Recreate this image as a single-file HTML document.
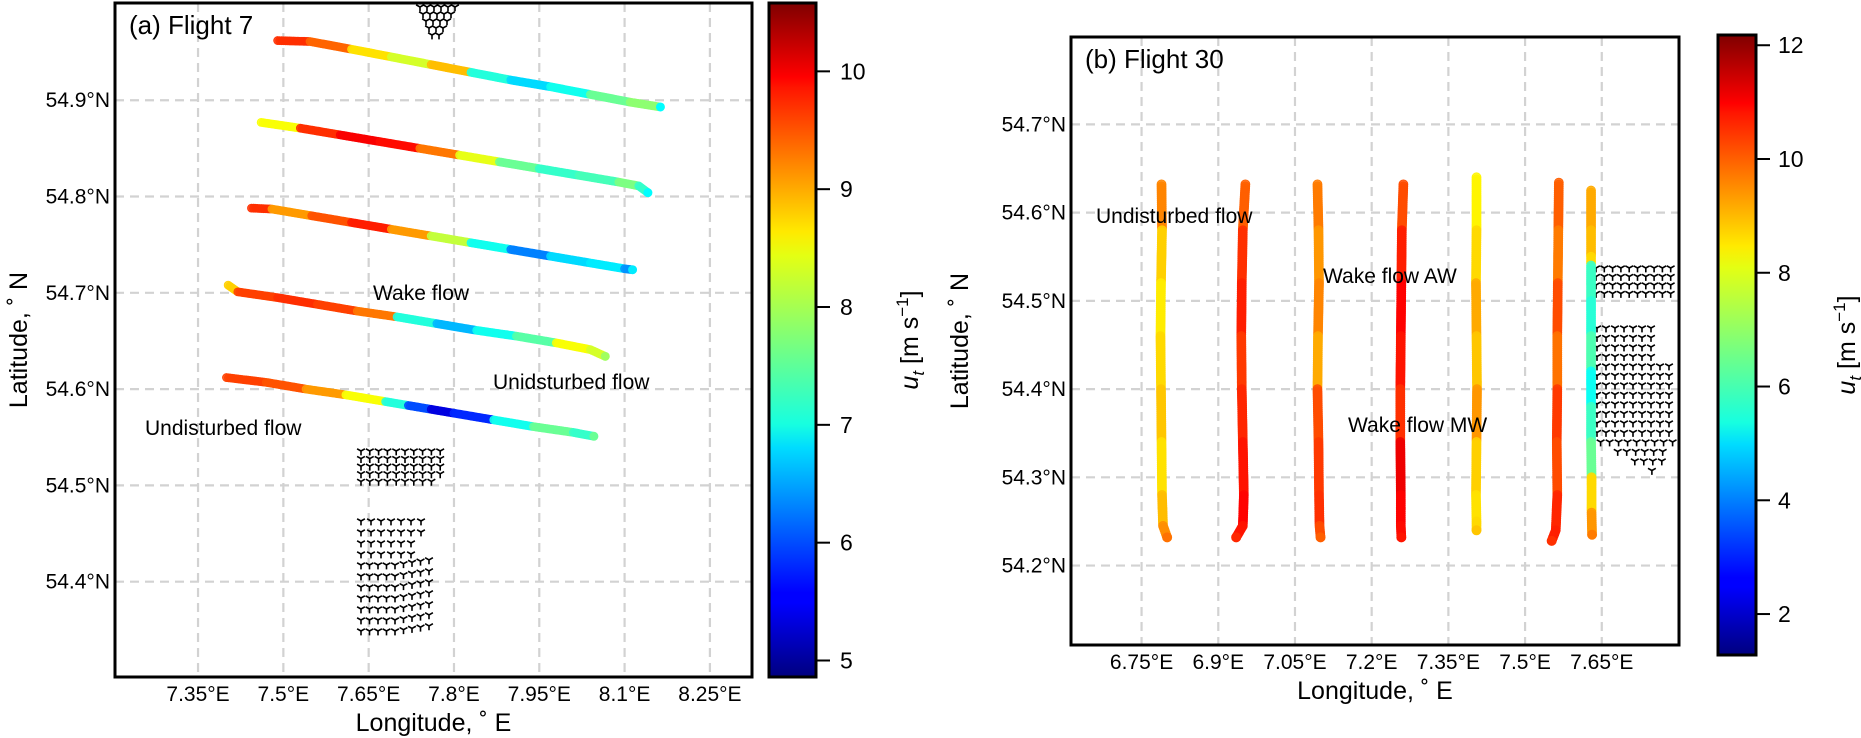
<!DOCTYPE html>
<html><head><meta charset="utf-8">
<style>
html,body{margin:0;padding:0;background:#fff;}
svg{display:block;font-family:"Liberation Sans",Arial,sans-serif;}
</style></head>
<body>
<svg id="fig" width="1861" height="738" viewBox="0 0 1861 738" xmlns="http://www.w3.org/2000/svg">
<defs>
<linearGradient id="jetA" x1="0" y1="1" x2="0" y2="0">
<stop offset="0" stop-color="#00007f"/><stop offset="0.11" stop-color="#0000ff"/><stop offset="0.125" stop-color="#0000ff"/><stop offset="0.34" stop-color="#00dcff"/><stop offset="0.375" stop-color="#17ffe0"/><stop offset="0.5" stop-color="#7dff7a"/><stop offset="0.625" stop-color="#e4ff13"/><stop offset="0.66" stop-color="#ffea00"/><stop offset="0.875" stop-color="#ff1500"/><stop offset="0.89" stop-color="#ff0000"/><stop offset="1" stop-color="#7f0000"/>
</linearGradient>
</defs>
<g id="panelA"></g>
<g id="panelB"></g>
</svg>
<script>
// ---------- Panel A data (Flight 7) ----------
const aXTicks = [7.35, 7.5, 7.65, 7.8, 7.95, 8.1, 8.25];
const aXTickLabels = ["7.35°E","7.5°E","7.65°E","7.8°E","7.95°E","8.1°E","8.25°E"];
const aYTicks = [54.4, 54.5, 54.6, 54.7, 54.8, 54.9];
const aYTickLabels = ["54.4°N","54.5°N","54.6°N","54.7°N","54.8°N","54.9°N"];
const aT1Lon = [7.49,7.547,7.62,7.69,7.76,7.83,7.90,7.97,8.04,8.11,8.163];
const aT1Lat = [54.962,54.961,54.953,54.945,54.937,54.929,54.921,54.914,54.906,54.898,54.893];
const aT1U   = [9.6,9.3,8.6,8.2,8.8,7.2,6.8,7.1,7.6,7.8,7.0];
const aT2Lon = [7.461,7.53,7.60,7.67,7.74,7.81,7.88,7.95,8.02,8.09,8.125,8.141];
const aT2Lat = [54.877,54.871,54.864,54.857,54.850,54.843,54.836,54.829,54.822,54.815,54.811,54.804];
const aT2U   = [8.4,9.6,9.9,9.8,9.2,8.3,7.6,7.3,7.4,7.7,7.3,7.0];
const aT3Lon = [7.444,7.48,7.55,7.62,7.69,7.76,7.83,7.90,7.97,8.04,8.10,8.114];
const aT3Lat = [54.788,54.787,54.780,54.773,54.766,54.759,54.752,54.745,54.738,54.731,54.725,54.724];
const aT3U   = [9.6,9.0,9.4,9.7,9.0,8.1,7.1,6.3,6.8,6.9,6.4,6.9];
const aT4Lon = [7.403,7.42,7.49,7.56,7.63,7.70,7.77,7.84,7.91,7.98,8.04,8.066];
const aT4Lat = [54.708,54.701,54.695,54.688,54.681,54.675,54.668,54.661,54.655,54.648,54.641,54.634];
const aT4U   = [8.7,9.5,9.6,9.5,9.2,7.2,6.6,7.1,7.5,8.4,8.2,7.9];
const aT5Lon = [7.40,7.47,7.54,7.61,7.68,7.72,7.76,7.80,7.87,7.94,8.01,8.046];
const aT5Lat = [54.612,54.607,54.600,54.594,54.587,54.583,54.579,54.575,54.568,54.561,54.555,54.551];
const aT5U   = [9.5,9.4,9.0,8.4,7.2,6.0,5.4,5.8,7.1,7.6,7.3,7.6];
const aCbTicks = [5,6,7,8,9,10];

// ---------- Panel B data (Flight 30) ----------
const bXTicks = [6.75, 6.9, 7.05, 7.2, 7.35, 7.5, 7.65];
const bXTickLabels = ["6.75°E","6.9°E","7.05°E","7.2°E","7.35°E","7.5°E","7.65°E"];
const bYTicks = [54.2, 54.3, 54.4, 54.5, 54.6, 54.7];
const bYTickLabels = ["54.2°N","54.3°N","54.4°N","54.5°N","54.6°N","54.7°N"];
const bLat9 = [54.632,54.58,54.52,54.46,54.40,54.34,54.28,54.245,54.232];
const bR1Lon = [6.789,6.790,6.788,6.787,6.788,6.789,6.790,6.792,6.800];
const bR1U   = [9.4,8.6,8.3,8.5,8.7,8.4,8.8,9.3,9.6];
const bR2Lon = [6.953,6.948,6.946,6.945,6.946,6.948,6.950,6.948,6.935];
const bR2U   = [9.8,10.3,10.5,10.2,10.4,10.6,10.8,10.6,10.4];
const bR3Lon = [7.094,7.096,7.097,7.095,7.094,7.096,7.097,7.098,7.100];
const bR3U   = [9.5,9.2,9.4,9.0,10.0,10.2,10.3,10.0,9.8];
const bR4Lon = [7.262,7.259,7.258,7.257,7.256,7.256,7.257,7.257,7.258];
const bR4U   = [10.0,10.5,10.8,10.6,10.3,11.0,10.8,10.7,10.6];
const bR5Lat = [54.640,54.58,54.52,54.46,54.40,54.34,54.28,54.25,54.240];
const bR5Lon = [7.405,7.405,7.404,7.405,7.406,7.405,7.404,7.405,7.405];
const bR5U   = [8.2,8.5,9.0,8.7,9.2,8.6,8.4,8.5,8.7];
const bR6Lat = [54.634,54.58,54.52,54.46,54.40,54.34,54.28,54.24,54.228];
const bR6Lon = [7.566,7.565,7.564,7.563,7.563,7.562,7.563,7.560,7.552];
const bR6U   = [9.8,9.5,10.0,9.6,10.2,10.0,10.4,10.5,10.3];
const bR7Lat = [54.625,54.58,54.55,54.54,54.50,54.46,54.42,54.38,54.34,54.30,54.26,54.235];
const bR7Lon = [7.629,7.629,7.629,7.629,7.629,7.629,7.629,7.629,7.629,7.630,7.630,7.631];
const bR7U   = [9.0,8.8,8.5,6.0,5.8,6.2,5.5,6.0,6.5,8.5,9.2,9.5];
const bCbTicks = [2,4,6,8,10,12];

const NS = "http://www.w3.org/2000/svg";
function mk(parent, tag, attrs, text){
  const e = document.createElementNS(NS, tag);
  for (const k in attrs) e.setAttribute(k, attrs[k]);
  if (text !== undefined) e.textContent = text;
  parent.appendChild(e);
  return e;
}
function jet(t){
  t = Math.max(0, Math.min(1, t));
  const c = v => Math.round(255*Math.max(0, Math.min(1, v)));
  return `rgb(${c(1.5-Math.abs(4*t-3))},${c(1.5-Math.abs(4*t-2))},${c(1.5-Math.abs(4*t-1))})`;
}

function buildPanel(cfg){
  const g = document.getElementById(cfg.id);
  const sx = lon => cfg.x0 + (lon - cfg.lon0) / (cfg.lon1 - cfg.lon0) * (cfg.x1 - cfg.x0);
  const sy = lat => cfg.y0 + (cfg.lat1 - lat) / (cfg.lat1 - cfg.lat0) * (cfg.y1 - cfg.y0);
  const cy = u => cfg.cbY1 - (u - cfg.vmin) / (cfg.vmax - cfg.vmin) * (cfg.cbY1 - cfg.cbY0);
  const col = u => jet((u - cfg.vmin) / (cfg.vmax - cfg.vmin));

  const grid = mk(g, "g", {});
  
  
  cfg.xTicks.forEach(v => {
    const l = mk(grid, "line", {x1:sx(v), x2:sx(v), y1:cfg.y0, y2:cfg.y1, stroke:"#d2d2d2", "stroke-width":2.2, "stroke-dasharray":"9,6"});
    
    
  });
  cfg.yTicks.forEach(v => {
    const l = mk(grid, "line", {x1:cfg.x0, x2:cfg.x1, y1:sy(v), y2:sy(v), stroke:"#d2d2d2", "stroke-width":2.2, "stroke-dasharray":"9,6"});
    
    
  });

  const tg = mk(g, "g", {stroke:"#000", "stroke-width":1.6, fill:"none"});
  
  
  cfg.turbines.forEach(p => {
    const x = p[0], y = p[1];
    mk(tg, "path", {d:`M${x},${y}L${x},${y+4.4}M${x},${y}L${x+3.9},${y-2.2}M${x},${y}L${x-3.9},${y-2.2}`});
  });

  cfg.tracks.forEach((tr, ti) => {
    const tgp = mk(g, "g", {});
    
    
    for (let i = 0; i < tr.lon.length - 1; i++){
      const xa = sx(tr.lon[i]), ya = sy(tr.lat[i]), xb = sx(tr.lon[i+1]), yb = sy(tr.lat[i+1]);
      const d = Math.hypot(xb-xa, yb-ya), n = Math.max(1, Math.round(d/2));
      const c = col(tr.u[i]);
      for (let k = 0; k < n; k++){
        const f = k/n;
        mk(tgp, "circle", {cx:xa+(xb-xa)*f, cy:ya+(yb-ya)*f, r:cfg.r, fill:c, stroke:c, "stroke-width":0.8, "fill-opacity":0.85});
      }
    }
    const last = tr.lon.length-1;
    const c = col(tr.u[last]);
    mk(tgp, "circle", {cx:sx(tr.lon[last]), cy:sy(tr.lat[last]), r:cfg.r, fill:c, stroke:c});
  });

  const fr = mk(g, "rect", {x:cfg.x0, y:cfg.y0, width:cfg.x1-cfg.x0, height:cfg.y1-cfg.y0, fill:"none", stroke:"#000", "stroke-width":3});
  
  

  cfg.xTicks.forEach((v, i) => {
    const t = mk(g, "text", {x:sx(v), y:cfg.y1+24, "font-size":21, "text-anchor":"middle", fill:"#000"}, cfg.xLabels[i]);
    
    
  });
  cfg.yTicks.forEach((v, i) => {
    const t = mk(g, "text", {x:cfg.x0-5, y:sy(v)+7, "font-size":21, "text-anchor":"end", fill:"#000"}, cfg.yLabels[i]);
    
    
  });
  const xt = mk(g, "text", {x:(cfg.x0+cfg.x1)/2, y:cfg.y1+54, "font-size":25, "text-anchor":"middle"}, "Longitude, ˚ E");
  
  
  const yt = mk(g, "text", {x:0, y:0, "font-size":25, "text-anchor":"middle", transform:`translate(${cfg.ylabX},${(cfg.y0+cfg.y1)/2}) rotate(-90)`}, "Latitude, ˚ N");
  
  
  const pt = mk(g, "text", {x:cfg.x0+14, y:cfg.y0+31, "font-size":26}, cfg.title);
  
  
  cfg.notes.forEach(n => {
    const t = mk(g, "text", {x:n[1], y:n[2], "font-size":21}, n[0]);
    
    
  });

  const cb = mk(g, "g", {});
  
  
  mk(cb, "rect", {x:cfg.cbX, y:cfg.cbY0, width:cfg.cbW, height:cfg.cbY1-cfg.cbY0, fill:"url(#jetA)", stroke:"#000", "stroke-width":3});
  cfg.cbTicks.forEach(v => {
    mk(cb, "line", {x1:cfg.cbX+cfg.cbW, x2:cfg.cbX+cfg.cbW+14, y1:cy(v), y2:cy(v), stroke:"#000", "stroke-width":2});
    const t = mk(cb, "text", {x:cfg.cbX+cfg.cbW+cfg.cbLabOff, y:cy(v)+8, "font-size":23}, String(v));
    
    
  });
  const ct = mk(cb, "text", {x:0, y:0, "font-size":25, "text-anchor":"middle", transform:`translate(${cfg.cbLabX},${(cfg.cbY0+cfg.cbY1)/2}) rotate(-90)`});
  
  
  mk(ct, "tspan", {"font-style":"italic"}, "u");
  mk(ct, "tspan", {"font-style":"italic", "font-size":17, dy:6}, "t");
  mk(ct, "tspan", {dy:-6}, " [m s");
  mk(ct, "tspan", {"font-size":17, dy:-10}, "−1");
  mk(ct, "tspan", {dy:10}, "]");
}

function turbA(){
  const p = [];
  for (let r = 0; r < 5; r++) for (let c = 0; c < (r==4?9:10); c++) p.push([361+c*8.8, 451+r*7.6]);
  for (let r = 0; r < 11; r++){
    const y = 521 + r*11;
    const xmax = r < 4 ? 420 + (r<2?6:0) : 434;
    for (let x = 361; x <= xmax; x += (r<4?10:8.5)) p.push([x, y + ((x>395&&r>=4)?(x-395)*-0.15:0)]);
  }
  for (let r = 0; r < 5; r++){
    const w = 36 - r*6;
    for (let x = 420 + r*3; x <= 420 + r*3 + w; x += 7) p.push([x, 7 + r*7]);
  }
  return p;
}
function turbB(){
  const p = [];
  for (let r = 0; r < 4; r++) for (let c = 0; c < 10; c++) p.push([1596+c*8.3, 268+r*8.5]);
  for (let y = 328; y <= 472; y += 9.5){
    const xmin = y < 440 ? 1597 : 1597 + (y-440)*1.8;
    const xmax = y < 360 ? 1652 : (y < 445 ? 1673 : 1673 - (y-445)*0.6);
    for (let x = xmin; x <= xmax; x += 9) p.push([x, y]);
  }
  return p;
}

buildPanel({
  id:"panelA", x0:115, x1:752, y0:3, y1:677,
  lon0:7.204, lon1:8.324, lat0:54.301, lat1:55.001,
  xTicks:aXTicks, xLabels:aXTickLabels, yTicks:aYTicks, yLabels:aYTickLabels,
  ylabX:27, title:"(a) Flight 7", r:4,
  tracks:[{lon:aT1Lon,lat:aT1Lat,u:aT1U},{lon:aT2Lon,lat:aT2Lat,u:aT2U},{lon:aT3Lon,lat:aT3Lat,u:aT3U},{lon:aT4Lon,lat:aT4Lat,u:aT4U},{lon:aT5Lon,lat:aT5Lat,u:aT5U}],
  turbines:turbA(),
  notes:[["Undisturbed flow",145,435],["Wake flow",373,300],["Unidsturbed flow",493,389]],
  cbX:769, cbW:47, cbY0:3, cbY1:677, vmin:4.86, vmax:10.58, cbTicks:aCbTicks, cbLabOff:24, cbLabX:918
});
buildPanel({
  id:"panelB", x0:1071, x1:1679, y0:37, y1:645,
  lon0:6.612, lon1:7.801, lat0:54.110, lat1:54.799,
  xTicks:bXTicks, xLabels:bXTickLabels, yTicks:bYTicks, yLabels:bYTickLabels,
  ylabX:968, title:"(b) Flight 30", r:4.5,
  tracks:[{lon:bR1Lon,lat:bLat9,u:bR1U},{lon:bR2Lon,lat:bLat9,u:bR2U},{lon:bR3Lon,lat:bLat9,u:bR3U},{lon:bR4Lon,lat:bLat9,u:bR4U},{lon:bR5Lon,lat:bR5Lat,u:bR5U},{lon:bR6Lon,lat:bR6Lat,u:bR6U},{lon:bR7Lon,lat:bR7Lat,u:bR7U}],
  turbines:turbB(),
  notes:[["Undisturbed flow",1096,223],["Wake flow AW",1323,283],["Wake flow MW",1348,432]],
  cbX:1718, cbW:38, cbY0:35, cbY1:655, vmin:1.28, vmax:12.18, cbTicks:bCbTicks, cbLabOff:22, cbLabX:1855
});
</script>
</body></html>
